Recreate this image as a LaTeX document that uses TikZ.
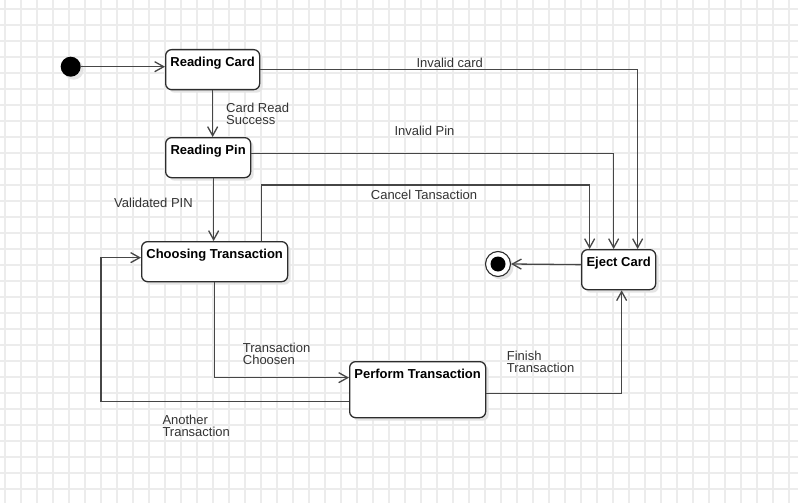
\documentclass[tikz,border=0pt]{standalone}
\usepackage{fontspec}
\setmainfont{Liberation Sans}
\usetikzlibrary{arrows.meta,shadows}
\definecolor{gridc}{RGB}{236,236,236}
\definecolor{linec}{RGB}{70,70,70}
\definecolor{boxc}{RGB}{45,45,45}
\definecolor{txtc}{RGB}{51,51,51}
\definecolor{shc}{RGB}{228,228,228}
\begin{document}
\begin{tikzpicture}[x=1pt,y=-1pt,
  shade3/.style={drop shadow={shadow xshift=3pt,shadow yshift=-3pt,fill=shc,opacity=1}},
  statebox/.style={draw=boxc, line width=1.3pt, rounded corners=6pt, fill=white,
    inner sep=0pt, anchor=north west, shade3},
  title/.style={anchor=north, inner sep=0pt, yshift=-7.5pt, text=black,
    font=\bfseries\fontsize{13}{13}\selectfont},
  lbl/.style={anchor=north west, inner sep=0pt, align=left, text=txtc,
    font=\fontsize{13}{12.5}\selectfont},
  arr/.style={draw=linec, line width=1.3pt, -{Straight Barb[length=9pt,width=10pt]}}]
\useasboundingbox (0,0) rectangle (798,503);
\fill[white] (0,0) rectangle (798,503);
\begin{scope}[gridc, line width=1.6pt]
  \foreach \x in {5,21,...,797} \draw (\x,0) -- (\x,503);
  \foreach \y in {9,25,...,503} \draw (0,\y) -- (798,\y);
\end{scope}

% states
\node[circle, fill=black, minimum size=20pt, inner sep=0pt, shade3] (init) at (70.7,66.7) {};
\node[statebox, minimum width=94pt, minimum height=40pt,
  label={[title]north:Reading Card}] (rc) at (165,49) {};
\node[statebox, minimum width=85pt, minimum height=40pt,
  label={[title]north:Reading Pin}] (rp) at (165,137) {};
\node[statebox, minimum width=146pt, minimum height=40pt,
  label={[title]north:Choosing Transaction}] (ct) at (141,241) {};
\node[statebox, minimum width=136pt, minimum height=56pt,
  label={[title]north:Perform Transaction}] (pt) at (349,361) {};
\node[statebox, minimum width=74pt, minimum height=40pt,
  label={[title]north:Eject Card}] (ej) at (581,249) {};
\node[circle, draw=boxc, fill=white, line width=1.1pt, minimum size=25pt, inner sep=0pt, shade3,
  path picture={\fill[black] (path picture bounding box.center) circle (7.5pt);}] (fin) at (498,264) {};

% transitions
\draw[arr] (init.east) -- (rc.west |- init.east);
\draw[arr] (rc.south) -- (rc.south |- rp.north);
\draw[arr] (rc.east) -| ([xshift=19pt]ej.north);
\draw[arr] ([yshift=4pt]rp.east) -| ([xshift=-5pt]ej.north);
\draw[arr] ([xshift=47pt]ct.north) -- ++(0,-56) -| ([xshift=-29pt]ej.north);
\draw[arr] ([xshift=-1pt]ct.north |- rp.south) -- ([xshift=-1pt]ct.north);
\draw[arr] (ct.south) |- ([yshift=12pt]pt.west);
\draw[arr] ([yshift=-12pt]pt.west) -- ++(-248,0) |- ([yshift=4pt]ct.west);
\draw[arr] ([yshift=-4pt]pt.east) -| ([xshift=3pt]ej.south);
\draw[arr] ([yshift=5pt]ej.west) -- (fin.east);

% labels
\node[lbl] (l1) at (226,102.5) {Card Read\\Success};
\node[lbl] (l2) at (114,198.3) {Validated PIN};
\node[lbl] (l3) at (416.3,57.7) {Invalid card};
\node[lbl] (l4) at (394.3,126.3) {Invalid Pin};
\node[lbl] (l5) at (370.7,190.3) {Cancel Tansaction};
\node[lbl] (l6) at (242.7,342.7) {Transaction\\Choosen};
\node[lbl] (l7) at (162.3,414.7) {Another\\Transaction};
\node[lbl] (l8) at (506.7,350.7) {Finish\\Transaction};
\end{tikzpicture}
\end{document}
